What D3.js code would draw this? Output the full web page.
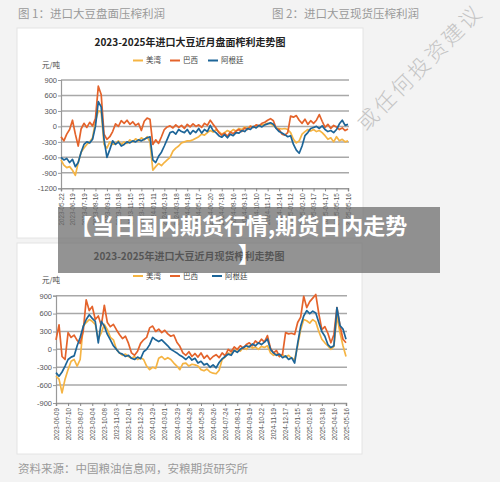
<!DOCTYPE html>
<html><head><meta charset="utf-8">
<script src="https://cdn.jsdelivr.net/npm/d3@7"></script>
<style>
html,body{margin:0;padding:0;background:#f3f3f3;}
svg{display:block;}
</style></head><body>
<svg id="c" width="500" height="482"></svg>
<script>
const seriesNames = ["美湾","巴西","阿根廷"];
const seriesColors = ["#f5b443","#e4632b","#1d6598"];

// Chart 1: 盘面榨利
const yTicks1 = [900,600,300,0,-300,-600,-900,-1200];
const xLabels1 = ["2023-05-22","2023-06-19","2023-07-19","2023-08-16","2023-09-13","2023-10-18","2023-11-15","2023-12-13","2024-01-11","2024-02-19","2024-03-18","2024-04-18","2024-05-17","2024-06-20","2024-07-18","2024-08-16","2024-09-13","2024-10-10","2024-11-17","2024-12-14","2025-01-12","2025-02-10","2025-03-17","2025-04-17","2025-05-15","2025-05-16"];
const us1 = [-650,-750,-800,-780,-850,-950,-700,-500,-420,-350,
 -300,-220,100,300,280,-350,-420,-300,-350,-330,
 -280,-350,-300,-330,-260,-300,-240,-280,-220,-260,
 -200,-300,-850,-780,-720,-760,-700,-650,-600,-480,
 -420,-380,-320,-300,-280,-280,-260,-230,-200,-150,
 -170,-120,-80,-110,-60,-100,-150,-120,-80,-110,
 -60,-90,-40,-60,-10,-40,10,-20,20,0,
 30,40,60,50,20,-30,-40,-50,-40,-60,
 -120,-250,-320,-280,-150,-100,-60,-90,-60,-100,
 -80,-120,-180,-250,-220,-300,-200,-280,-250,-300,
 -280];
const br1 = [-200,-280,-150,-60,120,-150,-380,-50,60,-20,
 80,10,150,780,620,-150,-250,-200,-100,50,
 0,110,60,120,40,90,20,60,-80,100,
 160,140,-350,-260,-330,-200,-60,-10,10,-30,
 30,-20,20,-40,40,-10,50,0,30,-20,
 60,20,120,40,-30,-120,-170,-130,-190,-110,
 -140,-90,-60,-100,-30,-60,0,-20,30,10,
 60,80,120,150,110,-40,-60,-150,-170,-120,
 200,180,210,120,60,140,40,110,60,120,
 230,100,-20,40,-40,20,-10,-60,-30,-80,
 -50];
const ar1 = [-600,-650,-620,-700,-640,-780,-700,-500,-350,-300,
 -320,-250,0,480,380,-250,-600,-450,-280,-350,
 -300,-380,-350,-300,-320,-280,-300,-260,-280,-250,
 -220,-200,-650,-700,-580,-500,-380,-250,-120,-100,
 -150,-60,-100,-120,-60,-150,-80,-120,-40,-130,
 -60,-100,20,-80,-120,-180,-210,-160,-220,-150,
 -180,-120,-130,-80,-100,-40,-60,0,-30,20,
 -10,30,50,70,40,-40,-100,-130,-160,-200,
 -180,-350,-460,-520,-380,-180,-120,-40,-20,0,
 -40,10,-60,-100,-80,-120,-60,50,120,20,
 40];

// Chart 2: 现货榨利
const yTicks2 = [900,600,300,0,-300,-600,-900];
const xLabels2 = ["2023-06-09","2023-07-10","2023-08-07","2023-09-04","2023-10-08","2023-11-03","2023-12-01","2023-12-29","2024-01-29","2024-03-01","2024-03-29","2024-04-28","2024-05-28","2024-06-26","2024-07-24","2024-08-21","2024-09-19","2024-10-22","2024-11-19","2024-12-17","2025-01-15","2025-02-18","2025-03-18","2025-04-16","2025-05-16"];
const br2 = [160,410,-120,-170,280,200,240,150,100,300,
 830,650,720,500,560,400,740,450,380,420,
 330,250,180,220,100,-60,-100,-30,100,160,
 200,360,390,300,340,280,320,260,220,240,
 120,50,-60,-100,-40,-120,-70,-130,-60,-150,
 -100,-170,-120,-90,-140,-60,-110,0,-40,40,
 0,60,20,80,110,60,140,100,170,120,
 230,20,-60,-20,-120,-80,280,260,270,250,
 450,540,890,700,800,860,920,600,330,380,
 270,110,250,700,400,170,110];
const ar2 = [-390,-450,-380,-280,-170,-130,-110,60,200,380,
 500,580,520,470,110,470,390,250,160,60,
 0,-60,-80,-120,-100,-150,-170,-130,-160,-40,
 0,80,200,160,130,160,110,60,0,-30,
 -60,-100,-130,-170,-120,-180,-150,-230,-200,-260,
 -240,-300,-260,-310,-220,-160,-120,-80,-100,-20,
 -50,0,30,60,40,90,60,110,80,120,
 170,0,-60,-100,-80,-140,-110,-170,-140,-230,
 100,390,560,650,600,640,610,450,300,220,
 80,30,60,700,400,340,170];
const us2 = [-450,-500,-730,-500,-340,-200,-170,-280,-170,390,
 450,500,470,420,170,280,420,330,200,160,
 0,-60,-100,-80,-120,-150,-120,-170,-140,-170,
 -280,-340,-300,-320,-150,-120,-170,-140,-170,-230,
 -280,-340,-240,-230,-280,-250,-260,-280,-340,-360,
 -330,-380,-400,-410,-350,-170,-130,-60,-80,-20,
 0,-30,30,0,60,20,40,0,50,30,
 60,-60,-100,-80,-120,-90,-130,-100,-150,-170,
 60,330,500,480,440,500,460,300,170,110,
 60,0,50,560,280,60,-120];

const FONT = "'Liberation Sans','Noto Sans CJK SC',sans-serif";
const CJK = "'Noto Sans CJK SC',sans-serif";
const svg = d3.select("#c");
svg.append("rect").attr("width",500).attr("height",482).attr("fill","#f3f3f3");

// captions
svg.append("text").attr("x",18).attr("y",18).attr("font-family",CJK).attr("font-size",11.5)
  .attr("fill","#9a9a9a").text("图 1：进口大豆盘面压榨利润");
svg.append("text").attr("x",272).attr("y",18).attr("font-family",CJK).attr("font-size",11.5)
  .attr("fill","#9a9a9a").text("图 2：进口大豆现货压榨利润");

// panels
svg.append("rect").attr("x",17).attr("y",28).attr("width",346).attr("height",210)
  .attr("fill","#fff").attr("stroke","#e4e4e4");
svg.append("rect").attr("x",17).attr("y",243).attr("width",345).attr("height",211)
  .attr("fill","#fff").attr("stroke","#e4e4e4");

function drawChart(cfg){
  const g = svg.append("g");
  const x = d3.scaleLinear().domain([0, cfg.series[0].length-1]).range(cfg.xr);
  const y = d3.scaleLinear().domain(cfg.yd).range(cfg.yr);
  g.append("text").attr("x",cfg.titleX).attr("y",cfg.titleY).attr("text-anchor","middle")
    .attr("font-family",CJK).attr("font-weight","bold").attr("font-size",10).attr("fill","#222")
    .text(cfg.title);
  g.append("text").attr("x",42).attr("y",cfg.unitY).attr("font-family",CJK)
    .attr("font-size",7.5).attr("fill","#444").text("元/吨");
  // legend
  cfg.legendX.forEach((lx,k)=>{
    g.append("line").attr("x1",lx).attr("x2",lx+10).attr("y1",cfg.legendY).attr("y2",cfg.legendY)
      .attr("stroke",seriesColors[k]).attr("stroke-width",2);
    g.append("text").attr("x",lx+13).attr("y",cfg.legendY+2.6).attr("font-family",CJK)
      .attr("font-size",7.5).attr("fill","#444").text(seriesNames[k]);
  });
  // grid
  g.selectAll("line.grid").data(cfg.yTicks.slice(0,-1)).join("line").attr("class","grid")
    .attr("x1",cfg.xr[0]).attr("x2",cfg.xr[1]+1).attr("y1",d=>y(d)).attr("y2",d=>y(d))
    .attr("stroke","#a8a8a8").attr("stroke-width",1.5);
  // y axis
  const ya = g.append("g").attr("transform",`translate(${cfg.xr[0]},0)`)
    .call(d3.axisLeft(y).tickValues(cfg.yTicks).tickSize(3).tickPadding(1).tickFormat(d=>d));
  ya.select(".domain").attr("stroke","#999").attr("stroke-width",1.2);
  ya.selectAll(".tick line").attr("stroke","#999");
  ya.selectAll("text").attr("font-family",FONT).attr("font-size",7.5).attr("fill","#555");
  // x axis
  const tv = cfg.labels.map((d,i)=>i*4);
  const xa = g.append("g").attr("transform",`translate(0,${cfg.yr[0]})`)
    .call(d3.axisBottom(x).tickValues(tv).tickSize(3).tickFormat(d=>cfg.labels[d/4]));
  xa.select(".domain").attr("stroke","#999").attr("stroke-width",1.5);
  xa.selectAll(".tick line").attr("stroke","#888");
  xa.selectAll("text").attr("transform","rotate(-90)").attr("text-anchor","end")
    .attr("x",-5).attr("y",0).attr("dy","0.35em")
    .attr("font-family",FONT).attr("font-size",6.3).attr("fill","#555");
  // lines
  const line = d3.line().x((d,i)=>x(i)).y(d=>y(d));
  cfg.series.forEach((s,k)=>{
    g.append("path").datum(s).attr("d",line).attr("fill","none")
      .attr("stroke",seriesColors[k]).attr("stroke-width",1.7).attr("stroke-linejoin","round");
  });
}

drawChart({series:[us1,br1,ar1], xr:[61,348], yd:[-1200,900], yr:[188.3,80],
  yTicks:yTicks1, labels:xLabels1, title:"2023-2025年进口大豆近月盘面榨利走势图",
  titleX:190, titleY:46, unitY:68, legendX:[133,170,208], legendY:60.5});
drawChart({series:[us2,br2,ar2], xr:[56,346], yd:[-900,900], yr:[403,295.7],
  yTicks:yTicks2, labels:xLabels2, title:"2023-2025年进口大豆近月现货榨利走势图",
  titleX:189, titleY:260, unitY:283, legendX:[133,170,212], legendY:276});

// diagonal watermark
svg.append("text").attr("transform","translate(366,132) rotate(-45)")
  .attr("font-family",CJK).attr("font-size",21).attr("letter-spacing",3)
  .attr("fill","#c4c4c4").attr("font-weight",300).text("或任何投资建议");

// banner overlay
svg.append("rect").attr("x",58).attr("y",207).attr("width",382).attr("height",66)
  .attr("fill","rgb(105,105,105)").attr("fill-opacity",0.72);
svg.append("text").attr("x",70).attr("y",234).attr("font-family",CJK).attr("font-weight","bold")
  .attr("font-size",22).attr("fill","#fff").text("【当日国内期货行情,期货日内走势");
svg.append("text").attr("x",249).attr("y",262).attr("text-anchor","middle").attr("font-family",CJK)
  .attr("font-weight","bold").attr("font-size",22).attr("fill","#fff").text("】");

// footer
svg.append("text").attr("x",18).attr("y",473).attr("font-family",CJK).attr("font-size",11.5)
  .attr("fill","#9a9a9a").text("资料来源：中国粮油信息网，安粮期货研究所");
</script>
</body></html>
